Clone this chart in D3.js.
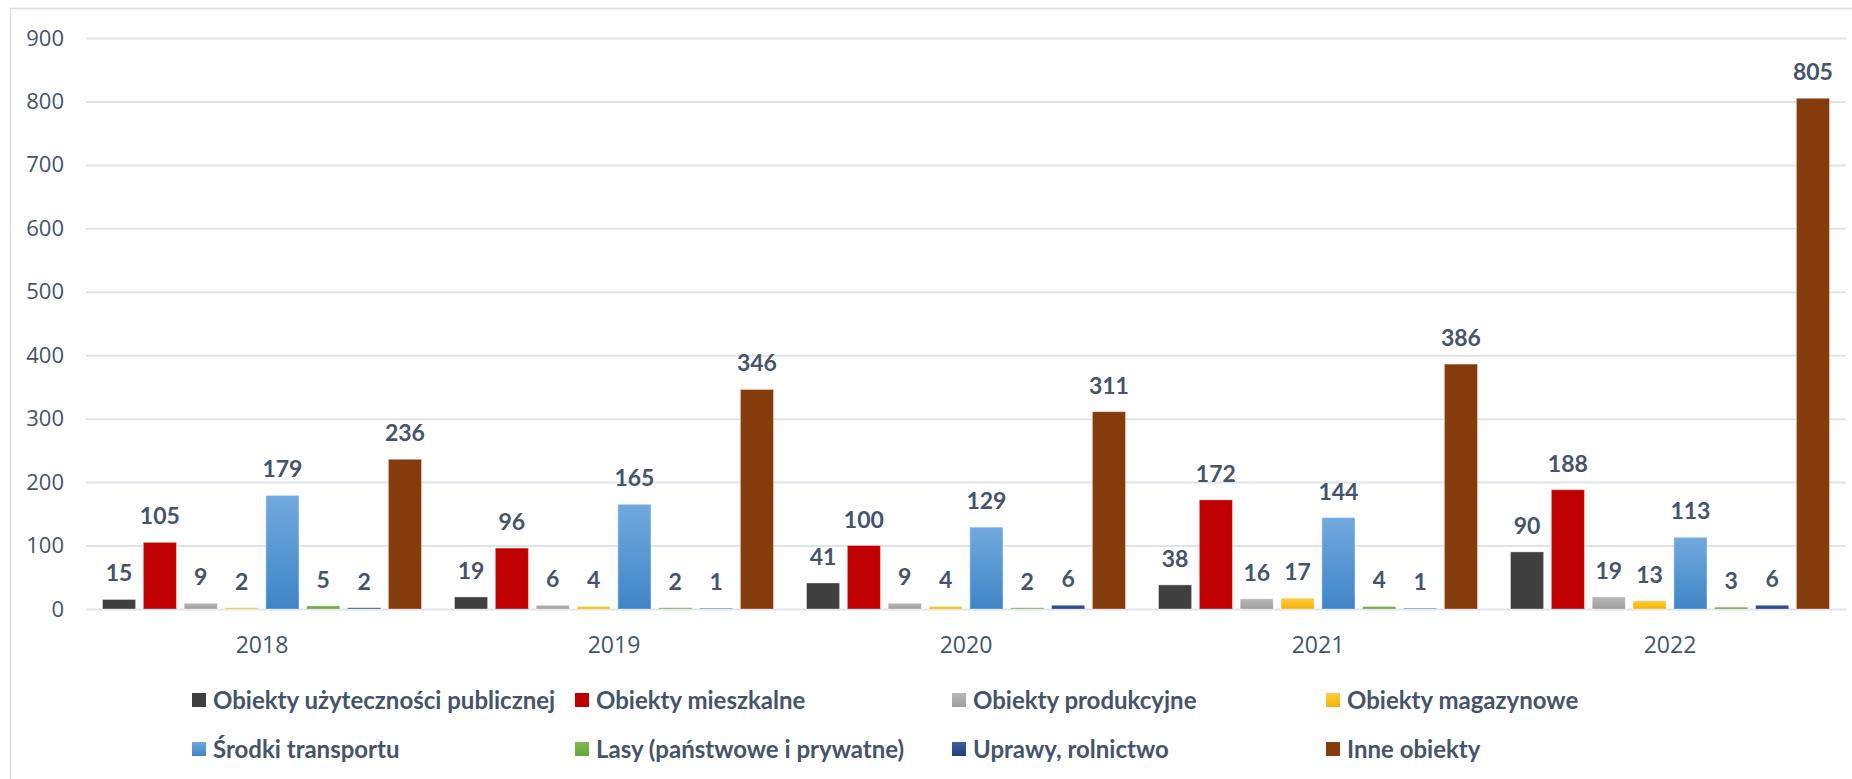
<!DOCTYPE html>
<html>
<head>
<meta charset="utf-8">
<script src="https://cdn.jsdelivr.net/npm/d3@7"></script>
<style>
  html, body { margin: 0; padding: 0; background: #ffffff; }
  svg { display: block; }
</style>
</head>
<body>
<svg id="chart" width="1852" height="779"></svg>
<script>
// ---- DATA ----
const years = ["2018", "2019", "2020", "2021", "2022"];
const seriesNames = [
  "Obiekty użyteczności publicznej",
  "Obiekty mieszkalne",
  "Obiekty produkcyjne",
  "Obiekty magazynowe",
  "Środki transportu",
  "Lasy (państwowe i prywatne)",
  "Uprawy, rolnictwo",
  "Inne obiekty"
];
const publiczne   = [15, 19, 41, 38, 90];
const mieszkalne  = [105, 96, 100, 172, 188];
const produkcyjne = [9, 6, 9, 16, 19];
const magazynowe  = [2, 4, 4, 17, 13];
const transport   = [179, 165, 129, 144, 113];
const lasy        = [5, 2, 2, 4, 3];
const uprawy      = [2, 1, 6, 1, 6];
const inne        = [236, 346, 311, 386, 805];
const yTicks = [0, 100, 200, 300, 400, 500, 600, 700, 800, 900];

const seriesValues = [publiczne, mieszkalne, produkcyjne, magazynowe, transport, lasy, uprawy, inne];

// colours: [top, bottom] gradient stops
const seriesColors = [
  ["#404040", "#404040"],
  ["#C00000", "#C00000"],
  ["#B8B8B8", "#9E9E9E"],
  ["#FFCA45", "#F5B400"],
  ["#72A9DE", "#3E86C8"],
  ["#7BBB52", "#65A23E"],
  ["#3F5E9E", "#203E7C"],
  ["#843C0C", "#843C0C"]
];

const textColor = "#44546A";
const gridColor = "#E0E4EA";

// ---- LAYOUT ----
const svg = d3.select("#chart");
const plotLeft = 86, plotRight = 1846, plotTop = 38, plotBottom = 609;

// frame
svg.append("rect")
  .attr("x", 10.5).attr("y", 8.5)
  .attr("width", 1852 - 10.5 + 5).attr("height", 800)
  .attr("fill", "none").attr("stroke", "#DADFE6").attr("stroke-width", 1.5);

const defs = svg.append("defs");
seriesColors.forEach((c, i) => {
  const g = defs.append("linearGradient")
    .attr("id", "grad" + i).attr("x1", 0).attr("y1", 0).attr("x2", 0).attr("y2", 1);
  g.append("stop").attr("offset", "0%").attr("stop-color", c[0]);
  g.append("stop").attr("offset", "100%").attr("stop-color", c[1]);
});

const y = d3.scaleLinear().domain([0, 900]).range([plotBottom, plotTop]);
const x0 = d3.scaleBand().domain(years).range([plotLeft, plotRight]).padding(0);
const x1 = d3.scaleBand().domain(d3.range(seriesNames.length))
  .range([16.5, x0.bandwidth() - 16.5]).paddingInner(0.19).paddingOuter(0);

// gridlines
const yAxis = d3.axisLeft(y).tickValues(yTicks).tickSize(-(plotRight - plotLeft)).tickPadding(22);
const gAxis = svg.append("g").attr("transform", `translate(${plotLeft},0)`).call(yAxis);
gAxis.select(".domain").remove();
gAxis.selectAll(".tick line").attr("stroke", gridColor).attr("stroke-width", 2);
gAxis.selectAll(".tick text")
  .attr("fill", textColor)
  .style("font-family", "'Open Sans', sans-serif")
  .style("font-size", "22px");

// category axis labels
const xAxis = d3.axisBottom(x0).tickSize(0).tickPadding(0);
const gX = svg.append("g").attr("transform", `translate(0,${plotBottom})`).call(xAxis);
gX.select(".domain").remove();
gX.selectAll(".tick text")
  .attr("dy", null).attr("y", 44)
  .attr("fill", textColor)
  .style("font-family", "'Open Sans', sans-serif")
  .style("font-size", "23px");

// bars
const groups = svg.append("g").selectAll("g")
  .data(years).join("g")
  .attr("transform", d => `translate(${x0(d)},0)`);

groups.each(function(yr, yi) {
  const g = d3.select(this);
  const rows = seriesNames.map((s, si) => ({ si, v: seriesValues[si][yi] }));
  g.selectAll("rect").data(rows).join("rect")
    .attr("x", d => x1(d.si))
    .attr("width", x1.bandwidth())
    .attr("y", d => y(d.v))
    .attr("height", d => y(0) - y(d.v))
    .attr("fill", d => `url(#grad${d.si})`)
    .attr("stroke", "rgba(255,255,255,0.35)")
    .attr("stroke-width", 1);
  g.selectAll("text").data(rows).join("text")
    .attr("x", d => x1(d.si) + x1.bandwidth() / 2)
    .attr("y", d => y(d.v) - 18)
    .attr("text-anchor", "middle")
    .attr("fill", textColor)
    .style("font-family", "Lato, 'Open Sans', sans-serif")
    .style("font-weight", "bold")
    .style("font-size", "23px")
    .text(d => d.v);
});

// legend
const legendCols = [192, 575, 952, 1326];
const legendRows = [700, 749];
const legend = svg.append("g");
seriesNames.forEach((name, i) => {
  const cx = legendCols[i % 4], cy = legendRows[Math.floor(i / 4)];
  legend.append("rect")
    .attr("x", cx).attr("y", cy - 7)
    .attr("width", 14).attr("height", 14)
    .attr("fill", `url(#grad${i})`);
  legend.append("text")
    .attr("x", cx + 21).attr("y", cy)
    .attr("dy", "0.36em")
    .attr("fill", textColor)
    .style("font-family", "Lato, 'Open Sans', sans-serif")
    .style("font-weight", "bold")
    .style("font-size", "24px")
    .text(name);
});
</script>
</body>
</html>
